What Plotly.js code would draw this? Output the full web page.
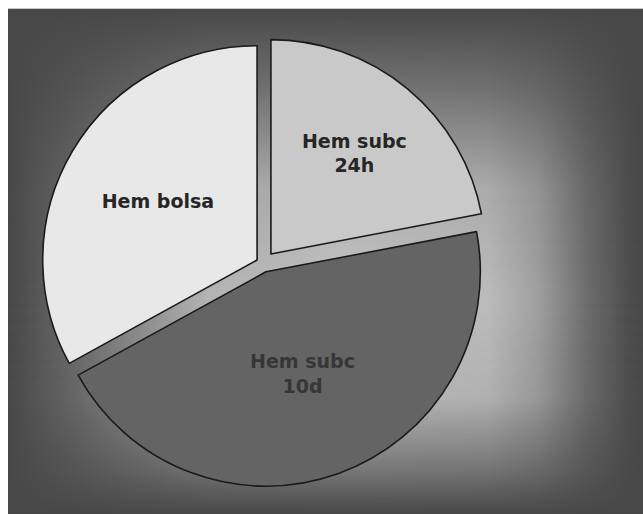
<!DOCTYPE html>
<html>
<head>
<meta charset="utf-8">
<script src="https://cdn.plot.ly/plotly-3.0.1.min.js"></script>
<style>
  html, body { margin: 0; padding: 0; background: #ffffff; }
  #bg, #glow {
    position: absolute; left: 8px; top: 8px; width: 635px; height: 506px;
  }
  #bg { background-color: #484848; border-top: 1px solid #c8c8c8; box-sizing: border-box; }
  #glow {
    background-image: linear-gradient(to right, #484848 0px, #6e6e6e 75px, #b4b4b4 200px, #c4c4c4 330px, #bcbcbc 480px, #a0a0a0 530px, #6c6c6c 580px, #4e4e4e 620px, #484848 635px);
    -webkit-mask-image: linear-gradient(to bottom, rgba(0,0,0,0) 0px, rgba(0,0,0,0.35) 80px, rgba(0,0,0,0.85) 180px, #000 290px, rgba(0,0,0,0.9) 390px, rgba(0,0,0,0.4) 460px, rgba(0,0,0,0) 506px);
    mask-image: linear-gradient(to bottom, rgba(0,0,0,0) 0px, rgba(0,0,0,0.35) 80px, rgba(0,0,0,0.85) 180px, #000 290px, rgba(0,0,0,0.9) 390px, rgba(0,0,0,0.4) 460px, rgba(0,0,0,0) 506px);
  }
  #chart { position: absolute; left: 0; top: 0; width: 643px; height: 514px; }
</style>
</head>
<body>
<div id="bg"></div>
<div id="glow"></div>
<div id="chart"></div>
<script>
// Data
var labels = ['Hem subc<br>24h', 'Hem subc<br>10d', 'Hem bolsa'];
var values = [22, 45, 33];
var sliceColors = ['#c9c9c9', '#646464', '#e8e8e8'];
var textColors = ['#262626', '#363636', '#262626'];
var pulls = [0.058, 0.041, 0.032];

var trace = {
  type: 'pie',
  labels: labels,
  values: values,
  sort: false,
  direction: 'clockwise',
  rotation: 0,
  pull: pulls,
  textinfo: 'label',
  textposition: 'inside',
  insidetextorientation: 'horizontal',
  textfont: { family: 'DejaVu Sans', size: 19, weight: 'bold', color: textColors },
  marker: { colors: sliceColors, line: { color: '#1a1a1a', width: 1.6 } },
  hoverinfo: 'none',
  domain: { x: [0.0554, 0.7626], y: [0.046, 0.9285] }
};

var layout = {
  width: 643, height: 514,
  margin: { l: 0, r: 0, t: 0, b: 0 },
  paper_bgcolor: 'rgba(0,0,0,0)',
  plot_bgcolor: 'rgba(0,0,0,0)',
  showlegend: false
};

Plotly.newPlot('chart', [trace], layout, { displayModeBar: false, staticPlot: true });
</script>
</body>
</html>
